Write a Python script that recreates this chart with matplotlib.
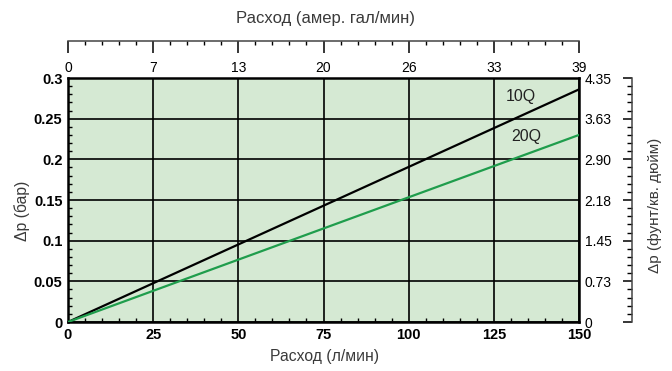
import matplotlib
matplotlib.use("Agg")
import matplotlib.pyplot as plt
from matplotlib.ticker import MultipleLocator

plt.rcParams['font.family'] = ['Liberation Sans', 'DejaVu Sans']

# flow (l/min) and pressure drop (bar)
flow = [0, 150]
dp_10q = [0, 0.286]
dp_20q = [0, 0.230]

x_ticks = [0, 25, 50, 75, 100, 125, 150]
x_labels = ['0', '25', '50', '75', '100', '125', '150']
gpm_labels = ['0', '7', '13', '20', '26', '33', '39']
y_ticks = [0, 0.05, 0.1, 0.15, 0.2, 0.25, 0.3]
y_labels = ['0', '0.05', '0.1', '0.15', '0.2', '0.25', '0.3']
psi_labels = ['0', '0.73', '1.45', '2.18', '2.90', '3.63', '4.35']

green = '#1f9d4c'
bg = '#d5e9d3'
txt = '#3a3a3a'

fig = plt.figure(figsize=(6.72, 3.71), dpi=100)
ax = fig.add_axes([68 / 672, 49 / 371, 511 / 672, 244 / 371])
ax.set_facecolor(bg)

ax.plot(flow, dp_10q, color='black', lw=1.6, zorder=3)
ax.plot(flow, dp_20q, color=green, lw=1.6, zorder=3)
ax.text(133, 0.277, '10Q', ha='center', va='center', fontsize=11.5, color='#222222')
ax.text(134.5, 0.228, '20Q', ha='center', va='center', fontsize=11.5, color='#222222')

ax.set_xlim(0, 150)
ax.set_ylim(0, 0.3)
ax.set_xticks(x_ticks)
ax.set_xticklabels(x_labels, fontweight='bold', fontsize=10.5)
ax.set_yticks(y_ticks)
ax.set_yticklabels(y_labels, fontweight='bold', fontsize=10.5)
ax.xaxis.set_minor_locator(MultipleLocator(5))
ax.yaxis.set_minor_locator(MultipleLocator(0.01))
ax.tick_params(which='major', length=0, pad=4)
ax.tick_params(which='minor', direction='in', length=3, width=1, top=False, right=False)
ax.grid(True, which='major', color='black', lw=1.2)
for s in ax.spines.values():
    s.set_linewidth(1.8)

# top scale (US gal/min)
ax2 = ax.twiny()
ax2.set_xlim(0, 150)
ax2.set_xticks(x_ticks)
ax2.set_xticklabels(gpm_labels, fontweight='bold', fontsize=10.5)
ax2.xaxis.set_minor_locator(MultipleLocator(5))
ax2.spines['top'].set_position(('outward', 26.5))
ax2.spines['top'].set_linewidth(1.1)
ax2.spines['top'].set_color('#444444')
for s in ['bottom', 'left', 'right']:
    ax2.spines[s].set_visible(False)
ax2.tick_params(which='major', direction='in', length=8.5, width=1.1, pad=-24)
ax2.tick_params(which='minor', direction='in', length=3, width=1)

# right scale (psi)
ax3 = ax.twinx()
ax3.set_ylim(0, 0.3)
ax3.set_yticks(y_ticks)
ax3.set_yticklabels(psi_labels, fontweight='bold', fontsize=10.5)
ax3.yaxis.set_minor_locator(MultipleLocator(0.01))
ax3.spines['right'].set_position(('outward', 38))
ax3.spines['right'].set_linewidth(1.1)
ax3.spines['right'].set_color('#444444')
for s in ['top', 'bottom', 'left']:
    ax3.spines[s].set_visible(False)
ax3.tick_params(which='major', direction='in', length=6.5, width=1.1, pad=-34)
ax3.tick_params(which='minor', direction='in', length=3.5, width=1)

fig.text(325 / 672, 1 - 356 / 371, 'Расход (л/мин)', ha='center', va='center', fontsize=11.3, color=txt)
fig.text(326 / 672, 1 - 18 / 371, 'Расход (амер. гал/мин)', ha='center', va='center', fontsize=12, color=txt)
fig.text(22 / 672, 1 - 211 / 371, 'Δp (бар)', ha='center', va='center', rotation=90, fontsize=11.3, color=txt)
fig.text(655 / 672, 1 - 205 / 371, 'Δp (фунт/кв. дюйм)', ha='center', va='center', rotation=90, fontsize=11, color=txt)

plt.savefig('out.png', dpi=100)
